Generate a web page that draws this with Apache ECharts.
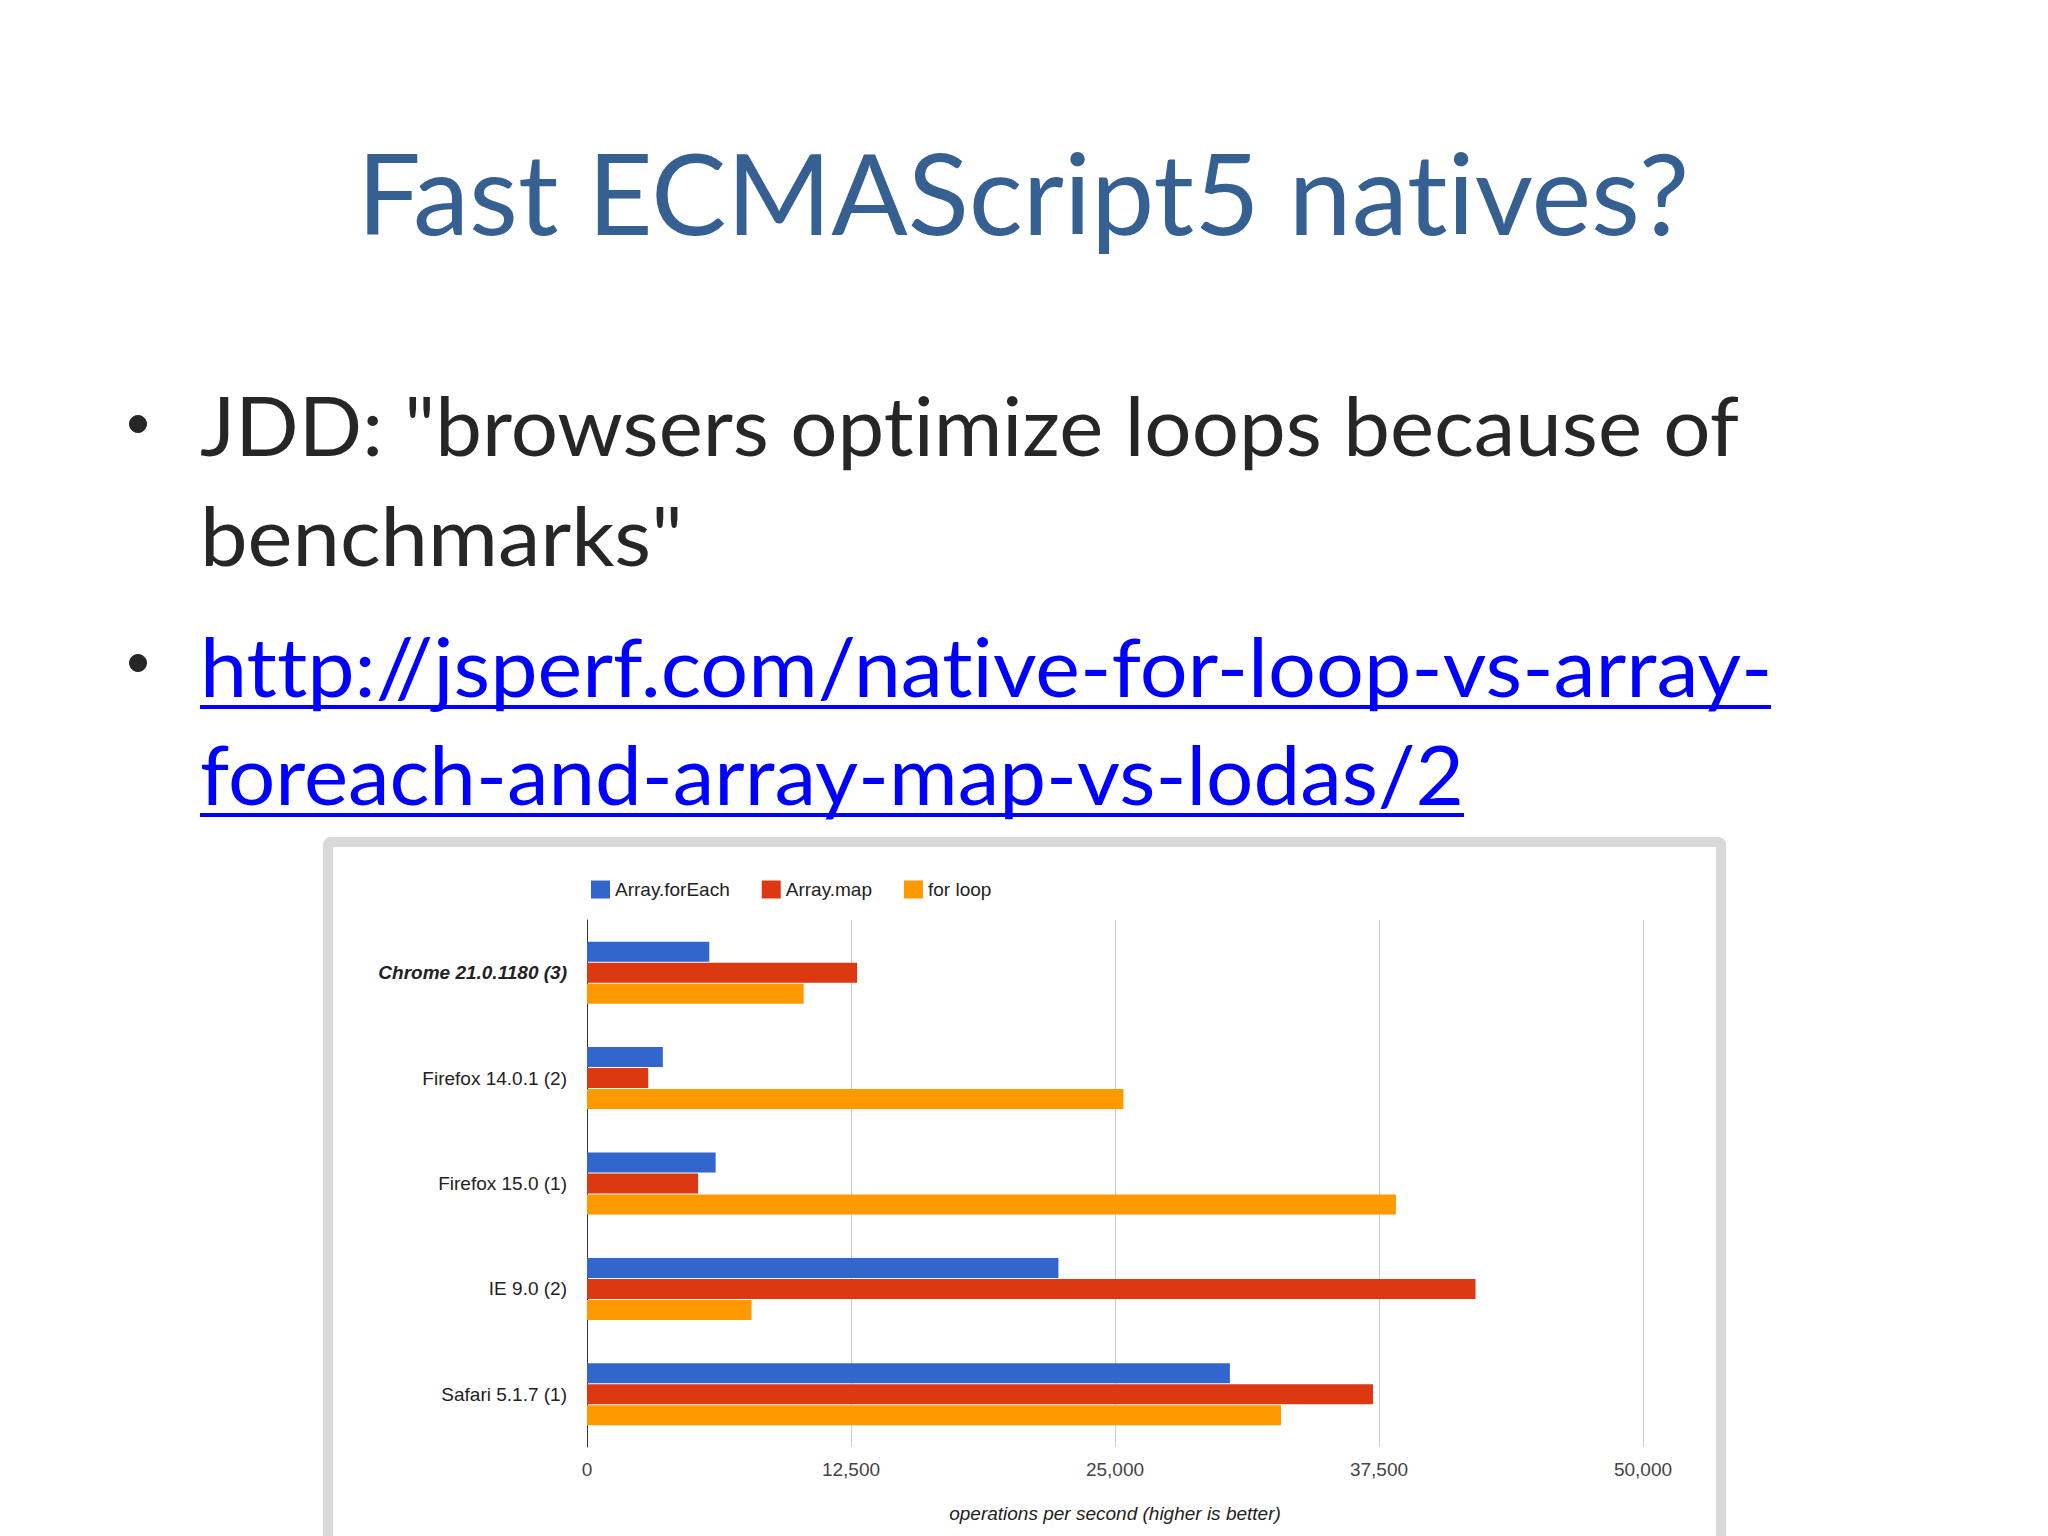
<!DOCTYPE html>
<html><head><meta charset="utf-8">
<script src="https://cdn.jsdelivr.net/npm/echarts@6/dist/echarts.min.js"></script>
<style>
html,body{margin:0;padding:0;background:#fff}
#c{width:2048px;height:1536px}
#c text{font-variant-ligatures:none;font-feature-settings:"liga" 0,"clig" 0}
</style>
</head><body><div id="c"></div>
<script>
const categories = ['Chrome 21.0.1180 (3)', 'Firefox 14.0.1 (2)', 'Firefox 15.0 (1)', 'IE 9.0 (2)', 'Safari 5.1.7 (1)'];
const seriesNames = ['Array.forEach', 'Array.map', 'for loop'];
const forEachValues = [5790, 3590, 6090, 22320, 30440];
const mapValues = [12790, 2900, 5260, 42070, 37220];
const forLoopValues = [10260, 25400, 38300, 7790, 32860];
const xTickValues = [0, 12500, 25000, 37500, 50000];
const slideTitle = 'Fast ECMAScript5 natives?';
const bulletLines = ['JDD: "browsers optimize loops because of', 'benchmarks"'];
const linkLines = ['http://jsperf.com/native-for-loop-vs-array-', 'foreach-and-array-map-vs-lodas/2'];
const axisTitle = 'operations per second (higher is better)';

const measureCtx = document.createElement('canvas').getContext('2d');
function fitScale(text, size, family, target) {
  measureCtx.font = size + 'px ' + family;
  return target / measureCtx.measureText(text).width;
}
function slideText(text, left, baseline, size, color, targetWidth) {
  return {
    type: 'text', x: left, y: baseline - 0.36 * size,
    scaleX: fitScale(text, size, 'Lato', targetWidth), z: 10, silent: true,
    style: { text: text, fontSize: size, fontFamily: 'Lato', fill: color, align: 'left', verticalAlign: 'middle' }
  };
}

const chart = echarts.init(document.getElementById('c'), null, { renderer: 'svg', width: 2048, height: 1536 });
const fmt = v => v.toLocaleString('en-US');
const colors = ['#3366CC', '#DC3912', '#FF9900'];
const valueSets = [forEachValues, mapValues, forLoopValues];

chart.setOption({
  backgroundColor: '#ffffff',
  animation: false,
  color: colors,
  textStyle: { fontFamily: 'Liberation Sans, Arial, sans-serif' },
  graphic: [
    { type: 'rect', z: -1, silent: true, shape: { x: 328, y: 842, width: 1393, height: 900, r: 3 },
      style: { fill: '#ffffff', stroke: '#d9d9d9', lineWidth: 10 } },
    slideText(slideTitle, 357, 232, 112, '#376092', 1334),
    slideText(bulletLines[0], 200, 454, 81, '#262626', 1540),
    slideText(bulletLines[1], 200, 564, 81, '#262626', 483),
    slideText(linkLines[0], 200, 695, 81, '#0000FF', 1571),
    slideText(linkLines[1], 200, 803, 81, '#0000FF', 1264),
    { type: 'circle', silent: true, shape: { cx: 138, cy: 424, r: 9 }, style: { fill: '#262626' } },
    { type: 'circle', silent: true, shape: { cx: 138, cy: 663, r: 9 }, style: { fill: '#262626' } },
    { type: 'line', silent: true, shape: { x1: 200, y1: 707, x2: 1771, y2: 707 }, style: { stroke: '#0000FF', lineWidth: 4 } },
    { type: 'line', silent: true, shape: { x1: 200, y1: 815, x2: 1464, y2: 815 }, style: { stroke: '#0000FF', lineWidth: 4 } }
  ],
  legend: {
    data: seriesNames, left: 586, top: 875, itemWidth: 19, itemHeight: 18, itemGap: 32,
    icon: 'rect', textStyle: { fontSize: 19, color: '#222222', fontFamily: 'Liberation Sans' }
  },
  grid: { left: 587, top: 920, width: 1056, height: 527, containLabel: false },
  xAxis: {
    type: 'value', min: xTickValues[0], max: xTickValues[xTickValues.length - 1],
    interval: xTickValues[1] - xTickValues[0],
    axisLine: { show: false }, axisTick: { show: false },
    splitLine: { show: true, lineStyle: { color: '#cccccc', width: 1 } },
    axisLabel: { formatter: fmt, fontSize: 19, color: '#444444', margin: 13, fontFamily: 'Liberation Sans' },
    name: axisTitle, nameLocation: 'middle', nameGap: 57,
    nameTextStyle: { fontSize: 19, fontStyle: 'italic', color: '#222222', fontFamily: 'Liberation Sans' }
  },
  yAxis: {
    type: 'category', inverse: true,
    data: categories.map((c, i) => i === 0 ? { value: c, textStyle: { fontWeight: 'bold', fontStyle: 'italic' } } : c),
    axisLine: { show: true, lineStyle: { color: '#333333', width: 1 } },
    axisTick: { show: false },
    axisLabel: { fontSize: 19, color: '#222222', margin: 20, fontFamily: 'Liberation Sans' }
  },
  series: seriesNames.map((n, i) => ({
    name: n, type: 'bar', data: valueSets[i], barWidth: 20, barGap: '5%',
    itemStyle: { color: colors[i] }
  }))
});
</script>
</body></html>
